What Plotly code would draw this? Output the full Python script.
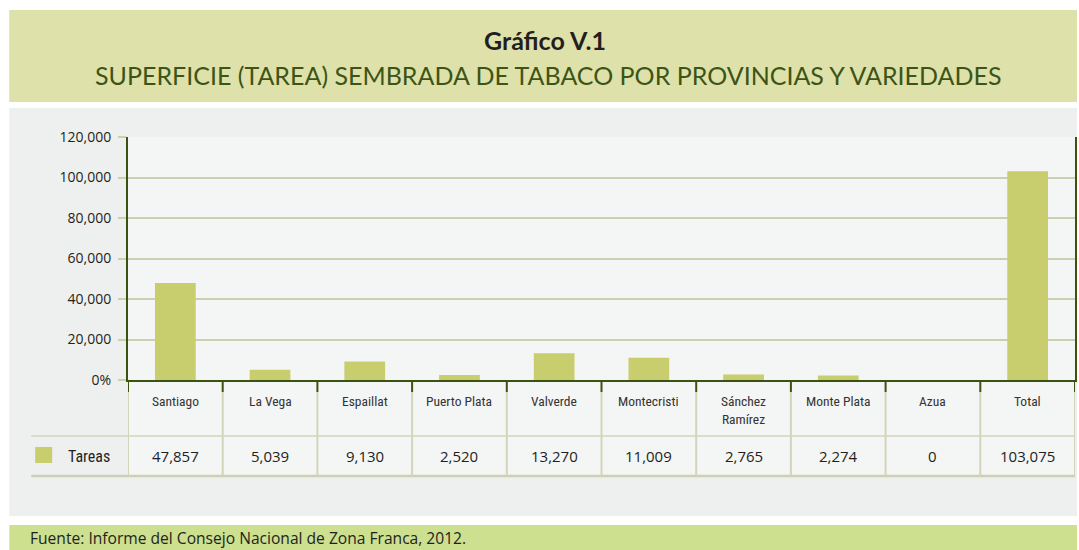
import plotly.graph_objects as go

# ---------------- data ----------------
categories = ["Santiago", "La Vega", "Espaillat", "Puerto Plata", "Valverde",
              "Montecristi", "Sánchez Ramírez", "Monte Plata", "Azua", "Total"]
category_labels = ["Santiago", "La Vega", "Espaillat", "Puerto Plata", "Valverde",
                   "Montecristi", "Sánchez<br>Ramírez", "Monte Plata", "Azua", "Total"]
tareas = [47857, 5039, 9130, 2520, 13270, 11009, 2765, 2274, 0, 103075]
series_name = "Tareas"
y_tickvals = [0, 20000, 40000, 60000, 80000, 100000, 120000]
y_ticktext = ["0%", "20,000", "40,000", "60,000", "80,000", "100,000", "120,000"]
title_main = "Gráfico V.1"
title_sub = "SUPERFICIE (TAREA) SEMBRADA DE TABACO POR PROVINCIAS Y VARIEDADES"
source_text = "Fuente: Informe del Consejo Nacional de Zona Franca, 2012."

# ---------------- layout geometry (pixels) ----------------
W, H = 1079, 550
L, R, T, B = 128, 1077, 137, 380


def px(x):
    return (x - L) / (R - L)


def py(y):
    return (B - y) / (B - T)


BAR = "#c8cd6e"
DARK = "#3b5311"
GRID = "#cdd0ae"
TABLE_LINE = "#d3d5bb"
TXT = "#231f20"
COND = "Liberation Sans Narrow, Roboto Condensed, Arial Narrow, Roboto, sans-serif"
REG = "Open Sans, sans-serif"

fig = go.Figure()
fig.add_trace(go.Bar(
    x=list(range(len(categories))), y=tareas, name=series_name,
    marker=dict(color=BAR, line=dict(width=0)),
    hovertext=categories, showlegend=False,
))

shapes = []
# background bands
shapes.append(dict(type="rect", xref="paper", yref="paper", x0=px(9), x1=px(1079),
                   y0=py(102), y1=py(10), fillcolor="#dfe1aa", line=dict(width=0), layer="below"))
shapes.append(dict(type="rect", xref="paper", yref="paper", x0=px(9), x1=px(1079),
                   y0=py(516), y1=py(108), fillcolor="#eeefef", line=dict(width=0), layer="below"))
shapes.append(dict(type="rect", xref="paper", yref="paper", x0=px(128), x1=px(1077),
                   y0=py(476), y1=py(137), fillcolor="#f4f5f5", line=dict(width=0), layer="below"))
shapes.append(dict(type="rect", xref="paper", yref="paper", x0=px(9), x1=px(1079),
                   y0=py(556), y1=py(525), fillcolor="#cce08f", line=dict(width=0), layer="below"))

n = len(categories)
# table horizontal lines
shapes.append(dict(type="line", xref="paper", yref="paper", x0=px(31), x1=px(1077),
                   y0=py(436), y1=py(436), line=dict(color=TABLE_LINE, width=1.5)))
shapes.append(dict(type="line", xref="paper", yref="paper", x0=px(31), x1=px(1077),
                   y0=py(476), y1=py(476), line=dict(color="#cdd0b3", width=2.5)))
# column separators
for i in range(n + 1):
    xb = i - 0.5
    shapes.append(dict(type="line", xref="x", yref="paper", x0=xb, x1=xb,
                       y0=py(476), y1=py(392), line=dict(color=TABLE_LINE, width=2)))
    shapes.append(dict(type="line", xref="x", yref="paper", x0=xb, x1=xb,
                       y0=py(392), y1=py(380), line=dict(color=DARK, width=2)))
# legend swatch
shapes.append(dict(type="rect", xref="paper", yref="paper", x0=px(35), x1=px(52),
                   y0=py(463), y1=py(447), fillcolor=BAR, line=dict(width=0)))

annotations = []
annotations.append(dict(text="<b>" + title_main + "</b>", xref="paper", yref="paper",
                        x=px(546), y=py(40), yanchor="middle", showarrow=False,
                        font=dict(family="Lato, sans-serif", size=25, color=TXT)))
annotations.append(dict(text=title_sub, xref="paper", yref="paper",
                        x=px(549), y=py(75), yanchor="middle", showarrow=False,
                        font=dict(family="Lato, sans-serif", size=25, color="#3c5516")))
annotations.append(dict(text=source_text, xref="paper", yref="paper", xanchor="left",
                        x=px(28), y=py(538), yanchor="middle", showarrow=False,
                        font=dict(family=REG, size=15.6, color=TXT)))
for i in range(n):
    annotations.append(dict(text=category_labels[i], xref="x", yref="paper", x=i,
                            y=py(391), yanchor="top", showarrow=False,
                            font=dict(family=COND, size=13.5, color="#333333")))
    annotations.append(dict(text=f"{tareas[i]:,}", xref="x", yref="paper", x=i,
                            y=py(456), yanchor="middle", showarrow=False,
                            font=dict(family=REG, size=15, color=TXT)))
annotations.append(dict(text=series_name, xref="paper", yref="paper", xanchor="left",
                        x=px(66), y=py(456), yanchor="middle", showarrow=False,
                        font=dict(family=COND, size=16, color=TXT)))

fig.update_layout(
    width=W, height=H,
    margin=dict(l=L, r=W - R, t=T, b=H - B, pad=0),
    paper_bgcolor="white", plot_bgcolor="rgba(0,0,0,0)",
    bargap=0.57,
    shapes=shapes, annotations=annotations,
    xaxis=dict(range=[-0.5, n - 0.5], showticklabels=False, showgrid=False,
               zeroline=False, showline=True, linecolor=DARK, linewidth=2, ticks=""),
    yaxis=dict(range=[0, 120000], tickvals=y_tickvals, ticktext=y_ticktext,
               showgrid=True, gridcolor=GRID, gridwidth=1.5, zeroline=False,
               showline=True, linecolor=DARK, linewidth=2, mirror=True,
               ticks="outside", ticklen=8, tickcolor=GRID, tickwidth=1.5,
               ticklabelstandoff=4,
               tickfont=dict(family=REG, size=14, color=TXT)),
)

fig.write_html("out.html", config={"displayModeBar": False},
               post_script="document.body.style.margin='0';")
